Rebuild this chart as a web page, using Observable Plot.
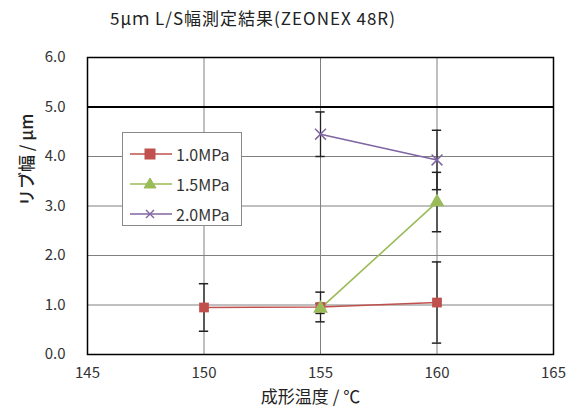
<!DOCTYPE html>
<html><head><meta charset="utf-8">
<script src="https://cdn.jsdelivr.net/npm/d3@7"></script>
<script src="https://cdn.jsdelivr.net/npm/@observablehq/plot@0.6"></script>
<style>
body{margin:0;background:#fff;}
#wrap{position:relative;width:574px;height:415px;font-family:"Noto Sans CJK JP","Noto Sans",sans-serif;}
#title{position:absolute;left:0;width:506px;top:5px;text-align:center;font-size:17px;color:#222;letter-spacing:1px;}
#legend{position:absolute;left:122px;top:132px;width:120px;height:94px;border:1px solid #888;background:#fff;box-sizing:border-box;}
.row{position:absolute;left:6px;height:20px;display:flex;align-items:center;font-size:16px;color:#333;}
.row svg{margin-right:3px;}
</style></head>
<body><div id="wrap"><div id="title"></div><div id="legend"></div></div>
<script>
const titleText = "5μｍ L/S幅測定結果(ZEONEX 48R)";
const xLabel = "成形温度 / ℃";
const yLabel = "リブ幅 / μm";
const xTicks = [145, 150, 155, 160, 165];
const yTicks = [0, 1, 2, 3, 4, 5, 6];
const temps = [150, 155, 160];
const seriesNames = ["1.0MPa", "1.5MPa", "2.0MPa"];
const seriesColors = ["#C0504D", "#9BBB59", "#8064A2"];
const seriesSymbols = ["square", "triangle", "times"];
const v10 = [0.95, 0.96, 1.05];
const e10 = [0.48, 0.30, 0.82];
const v15 = [null, 0.93, 3.08];
const e15 = [null, 0.10, 0.60];
const v20 = [null, 4.45, 3.93];
const e20 = [null, 0.45, 0.60];

const vals = [v10, v15, v20], errs = [e10, e15, e20];
const data = [];
seriesNames.forEach((s, i) => temps.forEach((t, j) => {
  if (vals[i][j] != null) data.push({series: s, x: t, y: vals[i][j], e: errs[i][j], color: seriesColors[i], symbol: seriesSymbols[i]});
}));

document.getElementById("title").textContent = titleText;

const plot = Plot.plot({
  width: 574, height: 415,
  marginLeft: 87, marginRight: 21, marginTop: 57, marginBottom: 61,
  style: {fontFamily: '"Noto Sans CJK JP","Noto Sans",sans-serif', fontSize: "14px", color: "#333", background: "transparent"},
  x: {domain: [145, 165]},
  y: {domain: [0, 6]},
  marks: [
    Plot.gridX(xTicks, {stroke: "#808080", strokeOpacity: 1}),
    Plot.gridY(yTicks, {stroke: "#808080", strokeOpacity: 1}),
    Plot.ruleY([5], {stroke: "#000", strokeWidth: 2}),
    Plot.frame({stroke: "#000", strokeWidth: 1.5}),
    Plot.axisX({ticks: xTicks, tickSize: 0, tickPadding: 13, label: null, fontSize: 15}),
    Plot.axisY({ticks: yTicks, tickSize: 0, tickPadding: 22, tickFormat: d => d.toFixed(1), label: null, fontSize: 15}),
    Plot.text([xLabel], {frameAnchor: "bottom", dy: 48, dx: -10, fontSize: 17, fill: "#222"}),
    Plot.text([yLabel], {frameAnchor: "left", dx: -60, rotate: -90, fontSize: 17, fill: "#222", fontWeight: 500}),
    Plot.ruleX(data, {x: "x", y1: d => d.y - d.e, y2: d => d.y + d.e, stroke: "#222", strokeWidth: 1.3}),
    Plot.ruleY(data, {y: d => d.y - d.e, x1: d => d.x - 0.2, x2: d => d.x + 0.2, stroke: "#222", strokeWidth: 1.5}),
    Plot.ruleY(data, {y: d => d.y + d.e, x1: d => d.x - 0.2, x2: d => d.x + 0.2, stroke: "#222", strokeWidth: 1.5}),
    Plot.line(data, {x: "x", y: "y", z: "series", stroke: "color", strokeWidth: 1.6}),
    Plot.dot(data.filter(d => d.symbol !== "times"), {x: "x", y: "y", symbol: "symbol", fill: "color", r: 5.5}),
    Plot.dot(data.filter(d => d.symbol === "times"), {x: "x", y: "y", symbol: "times", stroke: "color", r: 5, strokeWidth: 1.5})
  ]
});
document.getElementById("wrap").prepend(plot);
plot.style.position = "absolute"; plot.style.left = "0"; plot.style.top = "0";

const legend = document.getElementById("legend");
const sym = {square: '<rect x="16" y="5" width="10" height="10"/>', triangle: '<path d="M21 4 L27 14 L15 14 Z"/>', times: '<path d="M17 6 L25 14 M25 6 L17 14" fill="none" stroke-width="1.4"/>'};
seriesNames.forEach((s, i) => {
  const row = document.createElement("div");
  row.className = "row";
  row.style.top = (11 + i * 30) + "px";
  const c = seriesColors[i];
  row.innerHTML = `<svg width="44" height="20"><line x1="1" x2="43" y1="10" y2="10" stroke="${c}" stroke-width="1.6"/><g fill="${c}" stroke="${c}">${sym[seriesSymbols[i]]}</g></svg><span>${s}</span>`;
  legend.appendChild(row);
});
</script></body></html>
